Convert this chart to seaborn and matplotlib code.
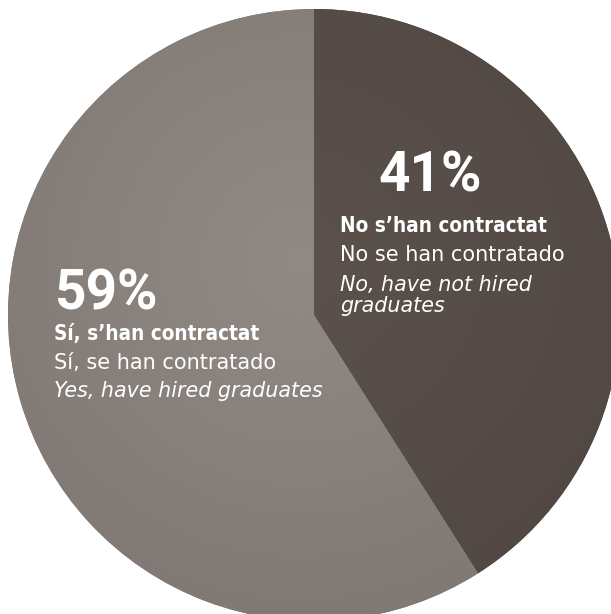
import numpy as np
import matplotlib
matplotlib.use("Agg")
import matplotlib.pyplot as plt
import seaborn as sns

# datos
shares = [41, 59]
pct_labels = ["41%", "59%"]
label_ca = ["No s\u2019han contractat", "S\u00ed, s\u2019han contractat"]
label_es = ["No se han contratado", "S\u00ed, se han contratado"]
label_en = ["No, have not hired\ngraduates", "Yes, have hired graduates"]
colors = ["#584e49", "#8b837e"]

sns.set_theme(style="white")
plt.rcParams["font.family"] = ["DejaVu Sans"]

W, H = 611, 614
fig = plt.figure(figsize=(W / 100, H / 100), dpi=100)
ax = fig.add_axes([0, 0, 1, 1])

cx, cy, r = 314, H - 315, 306
wedges, _ = ax.pie(shares, colors=colors, startangle=90, counterclock=False,
                   center=(cx, cy), radius=r, frame=True,
                   wedgeprops=dict(linewidth=0))
ax.set_aspect("equal")

# sombreado radial dentro de cada porcion
yy, xx = np.mgrid[0:H, 0:W]
d = np.hypot(xx - 300, yy - 260) / r
shade = np.clip(d, 0, 1.3) / 1.3
for w, c in zip(wedges, colors):
    base = np.array(matplotlib.colors.to_rgb(c))
    img = np.clip(base[None, None, :] * (1.05 - 0.14 * shade[..., None]), 0, 1)
    im = ax.imshow(img, extent=(0, W, 0, H), origin="upper", zorder=1.5)
    im.set_clip_path(w)
ax.set_xlim(0, W)
ax.set_ylim(0, H)
ax.axis("off")

# textos
tx = [340, 54]
pct_x = [378, 54]
ty_pct = [192, 310]
ty_ca = [232, 340]
ty_es = [261, 369]
ty_en = [291, 397]
for i in range(2):
    ax.text(pct_x[i], H - ty_pct[i], pct_labels[i], color="white", fontsize=39.5,
            fontweight="bold", family="Roboto", va="baseline", ha="left", zorder=3)
    ax.text(tx[i], H - ty_ca[i], label_ca[i], color="white", fontsize=14.9,
            fontweight="bold", fontstretch="condensed", va="baseline", ha="left", zorder=3)
    ax.text(tx[i], H - ty_es[i], label_es[i], color="white", fontsize=15,
            va="baseline", ha="left", zorder=3)
    for k, ln in enumerate(label_en[i].split("\n")):
        ax.text(tx[i], H - ty_en[i] - 21 * k, ln, color="white", fontsize=14.9,
                style="italic", va="baseline", ha="left", zorder=3)

fig.savefig("out.png", dpi=100)
